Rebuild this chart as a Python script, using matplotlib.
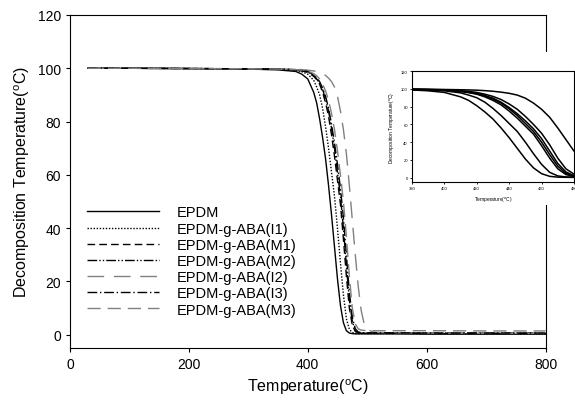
import matplotlib
matplotlib.use('Agg')
from matplotlib import pyplot as plt
from matplotlib.patches import Rectangle

plt.rcParams['font.family'] = ['Liberation Sans', 'DejaVu Sans']
plt.rcParams['mathtext.default'] = 'regular'

# temperature grid (°C) shared by all series
temp = [30, 100, 200, 300, 350, 380, 390, 400, 410, 415, 420, 425, 430, 435, 440,
        445, 450, 455, 460, 465, 470, 475, 480, 485, 490, 495, 500, 510, 520,
        550, 600, 700, 800]

epdm = [100, 100, 99.9, 99.7, 99.4, 98.8, 97.8, 96, 91, 87, 81, 74, 66, 56, 45,
        33, 21, 11, 4.5, 1.5, 0.6, 0.4, 0.3, 0.3, 0.3, 0.3, 0.3, 0.3, 0.3,
        0.3, 0.2, 0.2, 0.2]
aba_i1 = [100, 100, 99.9, 99.8, 99.6, 99.2, 98.7, 97.8, 95.5, 93, 90, 85, 78, 70, 61,
          52, 40, 27, 15, 6, 2, 0.8, 0.5, 0.4, 0.4, 0.4, 0.4, 0.4, 0.4,
          0.4, 0.4, 0.3, 0.3]
aba_m1 = [100, 100, 99.9, 99.8, 99.7, 99.4, 99, 98.5, 97, 95.8, 94, 91, 87, 82, 75,
          67, 58, 49, 36, 22, 10, 3.5, 1.2, 0.7, 0.6, 0.5, 0.5, 0.5, 0.5,
          0.5, 0.5, 0.5, 0.5]
aba_m2 = [100, 100, 99.9, 99.8, 99.7, 99.4, 99.1, 98.7, 97.3, 96, 94.5, 92, 88.5, 84, 77.5,
          70, 61, 52, 40, 26, 13, 5, 1.5, 0.8, 0.6, 0.6, 0.6, 0.6, 0.6,
          0.6, 0.6, 0.6, 0.6]
aba_i2 = [100, 100, 99.9, 99.8, 99.8, 99.6, 99.5, 99.3, 99, 98.8, 98.5, 98, 97.3, 96.3, 95,
          93, 89.5, 84, 77, 68, 56, 43, 30, 18, 9, 4, 2, 1, 0.8,
          0.7, 0.6, 0.5, 0.5]
aba_i3 = [100, 100, 99.9, 99.8, 99.7, 99.5, 99.2, 98.8, 97.5, 96.4, 95, 92.5, 89.5, 85, 79,
          72, 64, 55, 44, 30, 16, 6.5, 2.2, 1, 0.8, 0.7, 0.7, 0.7, 0.7,
          0.7, 0.6, 0.6, 0.6]
aba_m3 = [100, 100, 99.9, 99.8, 99.7, 99.5, 99.3, 99, 98, 97.2, 96, 94, 91.5, 88, 83,
          77, 69, 60, 50, 37, 22, 10, 4, 2.2, 1.7, 1.6, 1.5, 1.5, 1.5,
          1.5, 1.5, 1.4, 1.4]

labels = ['EPDM', 'EPDM-g-ABA(I1)', 'EPDM-g-ABA(M1)', 'EPDM-g-ABA(M2)',
          'EPDM-g-ABA(I2)', 'EPDM-g-ABA(I3)', 'EPDM-g-ABA(M3)']
series = [epdm, aba_i1, aba_m1, aba_m2, aba_i2, aba_i3, aba_m3]
styles = ['-', (0, (1, 1.2)), (0, (5.5, 3)), (0, (7, 1.5, 1, 1.5, 1, 1.5)),
          (0, (12, 7)), (0, (7, 2, 1, 2)), (0, (9.5, 5))]
colors = ['black', 'black', 'black', 'black', '#808080', 'black', '#808080']

fig = plt.figure(figsize=(5.75, 4.06), dpi=100)
ax = fig.add_axes([0.1217, 0.1404, 0.827, 0.8202])

for y, lab, ls, c in zip(series, labels, styles, colors):
    ax.plot(temp, y, linestyle=ls, color=c, lw=1.0, label=lab)

ax.set_xlim(0, 800)
ax.set_ylim(-5, 120)
ax.set_xticks([0, 200, 400, 600, 800])
ax.set_yticks([0, 20, 40, 60, 80, 100, 120])
ax.tick_params(direction='out', length=3, labelsize=10, top=False, right=False)
ax.set_xlabel('Temperature($^{o}$C)', fontsize=11.5)
ax.set_ylabel('Decomposition Temperature($^{o}$C)', fontsize=11.5)

ax.legend(loc='upper left', bbox_to_anchor=(0.036, 0.428), frameon=False,
          fontsize=10.5, handlelength=4.9, handletextpad=1.25, labelspacing=0.15,
          borderpad=0, borderaxespad=0)

# white box behind the inset hides the main right spine
fig.patches.append(Rectangle((0.672, 0.4926), 0.328, 0.377, transform=fig.transFigure,
                             facecolor='white', edgecolor='none', zorder=1))

ins = fig.add_axes([0.7165, 0.549, 0.2817, 0.2734])
ins.set_zorder(2)
for y in series:
    ins.plot(temp, y, color='black', lw=1.1)
ins.set_xlim(380, 480)
ins.set_ylim(-5, 120)
ins.set_xticks([380, 400, 420, 440, 460, 480])
ins.set_yticks([0, 20, 40, 60, 80, 100, 120])
ins.tick_params(direction='out', length=1.5, width=0.6, labelsize=3, pad=1.5)
for sp in ins.spines.values():
    sp.set_linewidth(0.8)
ins.set_xlabel('Temperature($^{o}$C)', fontsize=3.5, labelpad=3)
ins.set_ylabel('Decomposition Temperature($^{o}$C)', fontsize=3.5, labelpad=3)

fig.savefig('out.png', dpi=100)
